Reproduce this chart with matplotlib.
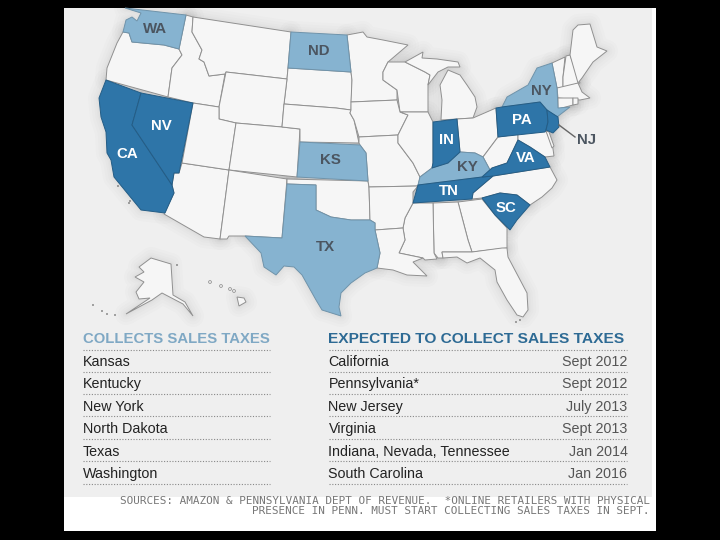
import matplotlib
matplotlib.use('Agg')
import matplotlib.pyplot as plt
from matplotlib.patches import Polygon, Rectangle, Circle

# state outlines (pixels)
WA = [(125,8),(186,15),(179,49),(164,45),(132,42),(129,33),(123,32),(126,20),(132,17),(137,21),(141,13)]
OR = [(123,32),(129,33),(132,42),(164,45),(179,49),(182,55),(172,68),(168,97),(106,80),(107,68),(117,43)]
ID = [(186,15),(193,17),(192,32),(202,50),(199,59),(204,62),(209,76),(225,74),(219,107),(193,103),(168,97),(172,68),(182,55),(179,49)]
MT = [(193,17),(291,32),(288,68),(287,79),(226,72),(225,74),(209,76),(204,62),(199,59),(202,50),(192,32)]
ND = [(291,32),(347,35),(351,72),(288,68)]
SD = [(288,68),(351,72),(352,80),(351,110),(336,108),(284,104),(287,79)]
WY = [(226,72),(287,79),(284,104),(282,127),(236,123),(219,119),(219,107)]
NV = [(141,93),(193,103),(181,163),(179,173),(174,173),(172,185),(132,125)]
CA = [(106,80),(141,93),(132,125),(172,185),(174,193),(165,213),(141,210),(114,177),(111,160),(107,153),(106,132),(101,117),(99,98)]
AZ = [(182,163),(229,170),(220,239),(204,237),(164,214),(174,193),(172,185),(174,173),(179,173)]
UT = [(219,107),(219,119),(236,123),(229,170),(182,163),(193,103)]
CO = [(236,123),(282,127),(300,129),(297,177),(229,170)]
NM = [(229,170),(287,179),(282,238),(245,236),(229,236),(227,239),(220,239)]
KS = [(300,142),(360,145),(366,153),(368,181),(297,177)]
NE = [(284,104),(336,108),(351,110),(350,113),(354,120),(359,143),(300,142),(300,129),(282,127)]
OK = [(287,179),(368,181),(369,187),(370,220),(351,220),(331,217),(316,210),(316,185),(287,184)]
TX = [(287,184),(316,185),(316,210),(331,217),(351,220),(370,220),(375,223),(375,230),(380,253),(377,268),(365,273),(351,283),
      (341,293),(339,307),(341,316),(322,310),(316,300),(302,275),(294,267),(284,266),(276,275),(264,267),(261,253),(245,236),(282,238)]
MN = [(347,35),(363,32),(367,37),(383,40),(408,45),(388,62),(383,72),(383,80),(397,90),(397,100),(351,102),(352,80),(351,72)]
WI = [(388,62),(405,62),(425,72),(430,75),(428,85),(428,97),(428,112),(400,112),(397,90),(383,80),(383,72)]
MI_UP = [(405,62),(423,52),(422,58),(437,59),(458,62),(460,67),(448,67),(438,72),(428,85),(430,75),(425,72)]
MI = [(448,70),(460,75),(467,85),(475,97),(477,107),(473,118),(457,119),(441,120),(442,100),(440,85)]
IA = [(351,102),(397,100),(400,112),(408,115),(403,125),(398,135),(359,137),(354,120),(350,113),(351,110)]
MO = [(359,137),(398,135),(398,143),(413,163),(420,177),(418,186),(369,187),(368,181),(366,153),(360,145),(359,143)]
IL = [(400,112),(428,112),(433,122),(433,163),(432,168),(420,177),(413,163),(398,143),(398,135),(403,125),(408,115)]
IN = [(433,122),(457,119),(460,152),(448,163),(432,168),(433,163)]
OH = [(457,119),(473,118),(496,108),(498,137),(483,157),(475,153),(460,152)]
KY = [(420,177),(432,168),(448,163),(460,152),(475,153),(483,157),(490,170),(482,177),(418,185)]
TN = [(418,185),(482,177),(493,176),(473,193),(472,199),(413,203)]
VA = [(482,177),(492,168),(507,163),(518,140),(530,147),(545,157),(550,167),(493,176)]
WV = [(483,157),(498,137),(518,134),(518,140),(507,163),(492,168),(490,170)]
MD = [(518,134),(546,131),(552,142),(554,156),(545,157),(530,147),(518,140)]
DE = [(546,131),(549,132),(554,146),(552,148)]
PA = [(496,108),(502,107),(540,102),(547,110),(548,122),(546,130),(545,132),(498,137)]
NJ = [(547,110),(558,117),(559,127),(553,133),(546,130),(548,122)]
NY = [(502,107),(507,97),(528,85),(537,68),(552,63),(557,88),(558,108),(570,107),(557,117),(547,110),(540,102)]
VT = [(552,63),(565,57),(563,77),(563,88),(557,88)]
NH = [(566,56),(570,55),(580,83),(563,88),(563,77)]
ME = [(570,55),(573,30),(578,25),(590,24),(597,47),(607,51),(593,62),(582,78),(578,83)]
MA = [(557,88),(578,83),(582,92),(590,98),(580,100),(558,98)]
CT = [(558,98),(573,98),(573,105),(558,109)]
RI = [(573,98),(578,98),(578,104),(573,105)]
NC = [(493,176),(550,167),(557,180),(552,188),(542,197),(530,205),(517,195),(500,193),(482,198),(472,199),(473,193)]
SC = [(482,198),(500,193),(517,195),(530,205),(517,220),(510,230),(507,227),(495,215)]
GA = [(458,202),(482,199),(495,215),(507,228),(507,248),(472,252),(468,240)]
AL = [(433,203),(458,202),(468,240),(472,252),(442,252),(443,258),(438,258),(434,253)]
MS = [(413,203),(433,203),(434,253),(437,259),(425,260),(423,258),(399,253),(405,240),(403,228),(405,218)]
AR = [(369,187),(418,186),(413,192),(413,203),(405,218),(403,228),(375,230),(375,223),(370,220)]
LA = [(375,230),(403,228),(405,240),(399,253),(423,258),(413,262),(427,276),(407,275),(393,270),(377,268),(380,253)]
FL = [(442,252),(472,252),(502,248),(507,248),(508,257),(527,293),(528,310),(523,317),(517,315),(507,300),(497,282),(495,270),
      (480,258),(467,263),(457,257),(443,258)]
AK = [(139,267),(151,258),(171,264),(173,295),(185,302),(193,316),(183,304),(162,293),(152,300),(126,314),(150,298),(139,299),(136,292),
      (144,282),(135,277),(144,272)]
HI = [(237,297),(244,298),(246,302),(239,306)]

DARK_STATES = [CA, NV, IN, TN, VA, PA, NJ, SC]
LIGHT_STATES = [WA, ND, KS, TX, KY, NY]
OTHER_STATES = [OR, ID, MT, SD, WY, AZ, UT, CO, NM, NE, OK, MN, WI, MI_UP, MI, IA, MO, IL, OH, WV, MD, DE, VT, NH, ME, MA, CT, RI,
                NC, GA, AL, MS, AR, LA, FL, AK, HI]
HI_ISLANDS = [(210,282),(221,286),(230,289),(234,291)]
# channel islands, aleutians and the keys, each just a speck
SPECKS = [(118,186),(130,201),(129,203),(93,305),(102,311),(107,314),(115,315),(177,265),(520,320),(516,322)]

# state labels: text, x, y
LABELS_LIGHT = [('WA',155,29),('ND',319,51),('KS',330,160),('TX',325,247),('KY',467,167),('NY',541,91)]
LABELS_DARK = [('NV',161,126),('CA',127,154),('IN',446,140),('TN',449,191),('VA',526,158),('PA',522,120),('SC',506,208)]

collects = ['Kansas', 'Kentucky', 'New York', 'North Dakota', 'Texas', 'Washington']
expected = ['California', 'Pennsylvania*', 'New Jersey', 'Virginia', 'Indiana, Nevada, Tennessee', 'South Carolina']
expected_dates = ['Sept 2012', 'Sept 2012', 'July 2013', 'Sept 2013', 'Jan 2014', 'Jan 2016']
row_y = [361, 383, 406, 428, 451, 473]
rule_y = [349.5, 372, 394, 416, 438.5, 461, 483.5]

DARK = '#2e75a8'
LIGHT = '#86b3d0'
LAND = '#f6f6f6'
BORDER = '#909090'

plt.rcParams['font.family'] = ['Liberation Sans', 'DejaVu Sans']
fig = plt.figure(figsize=(7.2, 5.4), dpi=100, facecolor='black')
ax = fig.add_axes([0, 0, 1, 1])
ax.set_xlim(0, 720)
ax.set_ylim(540, 0)
ax.axis('off')

# white card with grey panel on it
ax.add_patch(Rectangle((64, 8), 592, 523, facecolor='white', edgecolor='none', zorder=0))
panel = Rectangle((64, 8), 588, 489, facecolor='#efefef', edgecolor='none', zorder=0.5)
ax.add_patch(panel)

# soft shadow under the land
all_states = DARK_STATES + LIGHT_STATES + OTHER_STATES
for lw in [16, 12, 8, 5, 3]:
    for st in all_states:
        p = Polygon(st, closed=True, facecolor='none', edgecolor='black', linewidth=lw, alpha=0.012,
                    joinstyle='round', zorder=1)
        ax.add_patch(p)
        p.set_clip_path(panel)

for st in OTHER_STATES:
    ax.add_patch(Polygon(st, closed=True, facecolor=LAND, edgecolor=BORDER, linewidth=0.7, zorder=2))
for st in LIGHT_STATES:
    ax.add_patch(Polygon(st, closed=True, facecolor=LIGHT, edgecolor='#6f93aa', linewidth=0.7, zorder=3))
for st in DARK_STATES:
    ax.add_patch(Polygon(st, closed=True, facecolor=DARK, edgecolor='#245d86', linewidth=0.7, zorder=4))
for x, y in HI_ISLANDS:
    ax.add_patch(Circle((x, y), 1.4, facecolor=LAND, edgecolor=BORDER, linewidth=0.6, zorder=2))
for x, y in SPECKS:
    ax.add_patch(Circle((x, y), 0.8, facecolor='#555555', edgecolor='none', zorder=2))

for txt, x, y in LABELS_LIGHT:
    ax.text(x, y, txt, ha='center', va='center', fontsize=10.8, fontweight='bold', color='#4b5560', zorder=6)
for txt, x, y in LABELS_DARK:
    ax.text(x, y, txt, ha='center', va='center', fontsize=10.8, fontweight='bold', color='white', zorder=6)

# NJ sits outside with a leader line
ax.plot([559, 575], [125, 137], color='#666666', linewidth=1, zorder=5)
ax.text(587, 140, 'NJ', ha='center', va='center', fontsize=10.8, fontweight='bold', color='#4b5560', zorder=6)

# tables
ax.text(83, 339, 'COLLECTS SALES TAXES', ha='left', va='center', fontsize=10.73, fontweight='bold', color='#7fa8c4', zorder=6)
ax.text(328.5, 339, 'EXPECTED TO COLLECT SALES TAXES', ha='left', va='center', fontsize=11.14, fontweight='bold', color='#2d6a94', zorder=6)

for y in rule_y:
    ax.plot([83, 270], [y, y], color='#888888', linewidth=0.8, linestyle=(0, (1, 1.5)), zorder=5)
    ax.plot([329, 627], [y, y], color='#888888', linewidth=0.8, linestyle=(0, (1, 1.5)), zorder=5)

for name, y in zip(collects, row_y):
    ax.text(83, y + 4.7, name, ha='left', va='baseline', fontsize=10.3, color='#222222', zorder=6)
for name, date, y in zip(expected, expected_dates, row_y):
    ax.text(328.5, y + 4.7, name, ha='left', va='baseline', fontsize=10.3, color='#222222', zorder=6)
    ax.text(627.5, y + 4.7, date, ha='right', va='baseline', fontsize=10.3, color='#555555', zorder=6)

# footer
ax.text(650, 501.5, 'SOURCES: AMAZON & PENNSYLVANIA DEPT OF REVENUE.  *ONLINE RETAILERS WITH PHYSICAL',
        ha='right', va='center', fontsize=7.9, family='DejaVu Sans Mono', color='#777777', zorder=6)
ax.text(650, 511, 'PRESENCE IN PENN. MUST START COLLECTING SALES TAXES IN SEPT.',
        ha='right', va='center', fontsize=7.9, family='DejaVu Sans Mono', color='#777777', zorder=6)

fig.savefig('out.png', dpi=100, facecolor='black')
